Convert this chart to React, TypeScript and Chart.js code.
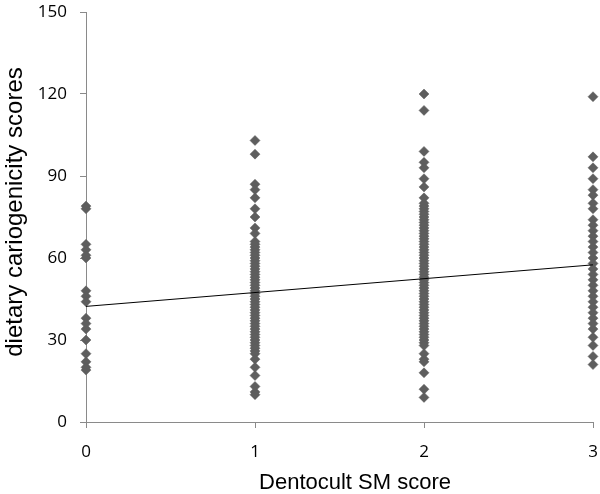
import React, { useEffect, useRef } from "react";
import { Chart, registerables } from "chart.js";

Chart.register(...registerables);

const xCategories = [0, 1, 2, 3];

const scoresAt0 = [79, 78, 65, 63, 61, 60, 48, 46, 44, 38, 36, 34, 30, 25, 22, 20, 19];

const scoresAt1 = [
  103, 98, 87, 85, 82, 78, 75, 71, 69, 66, 65, 64, 63, 62, 61, 60, 59, 58, 57, 56,
  55, 54, 53, 52, 51, 50, 49, 48, 47, 46, 45, 44, 43, 42, 41, 40, 39, 38, 37, 36,
  35, 34, 33, 32, 31, 30, 29, 28, 27, 26, 25, 23, 20, 17, 13, 11, 10,
];

const scoresAt2 = [
  120, 114, 99, 95, 93, 89, 86, 82, 80, 79, 78, 77, 76, 75, 74, 73, 72, 71, 70, 69,
  68, 67, 66, 65, 64, 63, 62, 61, 60, 59, 58, 57, 56, 55, 54, 53, 52, 51, 50, 49,
  48, 47, 46, 45, 44, 43, 42, 41, 40, 39, 38, 37, 36, 35, 34, 33, 32, 31, 30, 29,
  28, 25, 23, 22, 18, 12, 9,
];

const scoresAt3 = [
  119, 97, 93, 89, 85, 83, 80, 78, 74, 72, 70, 68, 66, 64, 62, 60, 58, 56, 54, 52,
  50, 48, 46, 44, 42, 40, 38, 36, 34, 31, 28, 24, 21,
];

const trendX = [0, 3];
const trendY = [42.3, 57.5];

const yTicks = [0, 30, 60, 90, 120, 150];

const xTitle = "Dentocult SM score";
const yTitle = "dietary cariogenicity scores";

const groups = [scoresAt0, scoresAt1, scoresAt2, scoresAt3];

export default function App() {
  const ref = useRef<HTMLCanvasElement | null>(null);

  useEffect(() => {
    if (!ref.current) return;
    const points = groups.flatMap((g, i) => g.map((v) => ({ x: xCategories[i], y: v })));
    const trend = trendX.map((x, i) => ({ x, y: trendY[i] }));

    const titlePlugin = {
      id: "axisTitlesCustom",
      afterDraw(chart: any) {
        const ctx = chart.ctx as CanvasRenderingContext2D;
        ctx.save();
        ctx.fillStyle = "#000";
        ctx.textAlign = "center";
        ctx.textBaseline = "middle";
        ctx.font = '22px "Liberation Sans", Arial, sans-serif';
        ctx.fillText(xTitle, 355, 483);
        ctx.translate(15, 212);
        ctx.rotate(-Math.PI / 2);
        ctx.font = '24px "Liberation Sans", Arial, sans-serif';
        ctx.fillText(yTitle, 0, 0);
        ctx.restore();
      },
    };

    const chart = new Chart(ref.current, {
      type: "scatter",
      data: {
        datasets: [
          {
            type: "line",
            data: trend,
            borderColor: "#000",
            borderWidth: 1,
            pointRadius: 0,
            fill: false,
            clip: false,
            order: 0,
          } as any,
          {
            data: points,
            pointStyle: "rectRot",
            pointRadius: 5,
            pointBackgroundColor: "#5e5e5e",
            pointBorderColor: "#5e5e5e",
            pointBorderWidth: 0.5,
            clip: false,
            order: 1,
          },
        ],
      },
      plugins: [titlePlugin],
      options: {
        responsive: false,
        animation: false,
        layout: { padding: { top: 12, right: 7, left: 0, bottom: 0 } },
        plugins: { legend: { display: false }, tooltip: { enabled: false } },
        scales: {
          x: {
            type: "linear",
            min: 0,
            max: 3,
            afterFit: (s: any) => {
              s.height = 72;
              s.paddingLeft = 0;
              s.paddingRight = 0;
            },
            ticks: {
              stepSize: 1,
              color: "#000",
              padding: 14,
              font: { family: '"Open Sans", sans-serif', size: 17 },
            },
            grid: { drawOnChartArea: false, drawTicks: true, tickLength: 6, color: "#8a8a8a" },
            border: { color: "#8a8a8a", width: 1 },
          },
          y: {
            min: 0,
            max: 150,
            afterFit: (s: any) => {
              s.width = 86;
              s.paddingTop = 0;
              s.paddingBottom = 0;
            },
            afterBuildTicks: (s: any) => {
              s.ticks = yTicks.map((v) => ({ value: v }));
            },
            ticks: {
              color: "#000",
              padding: 13,
              font: { family: '"Open Sans", sans-serif', size: 17 },
            },
            grid: { drawOnChartArea: false, drawTicks: true, tickLength: 6, color: "#8a8a8a" },
            border: { color: "#8a8a8a", width: 1 },
          },
        },
      },
    });
    return () => chart.destroy();
  }, []);

  return (
    <div style={{ position: "absolute", left: 0, top: 0, width: 600, height: 494, background: "#fff" }}>
      <canvas ref={ref} width={600} height={494} />
    </div>
  );
}
